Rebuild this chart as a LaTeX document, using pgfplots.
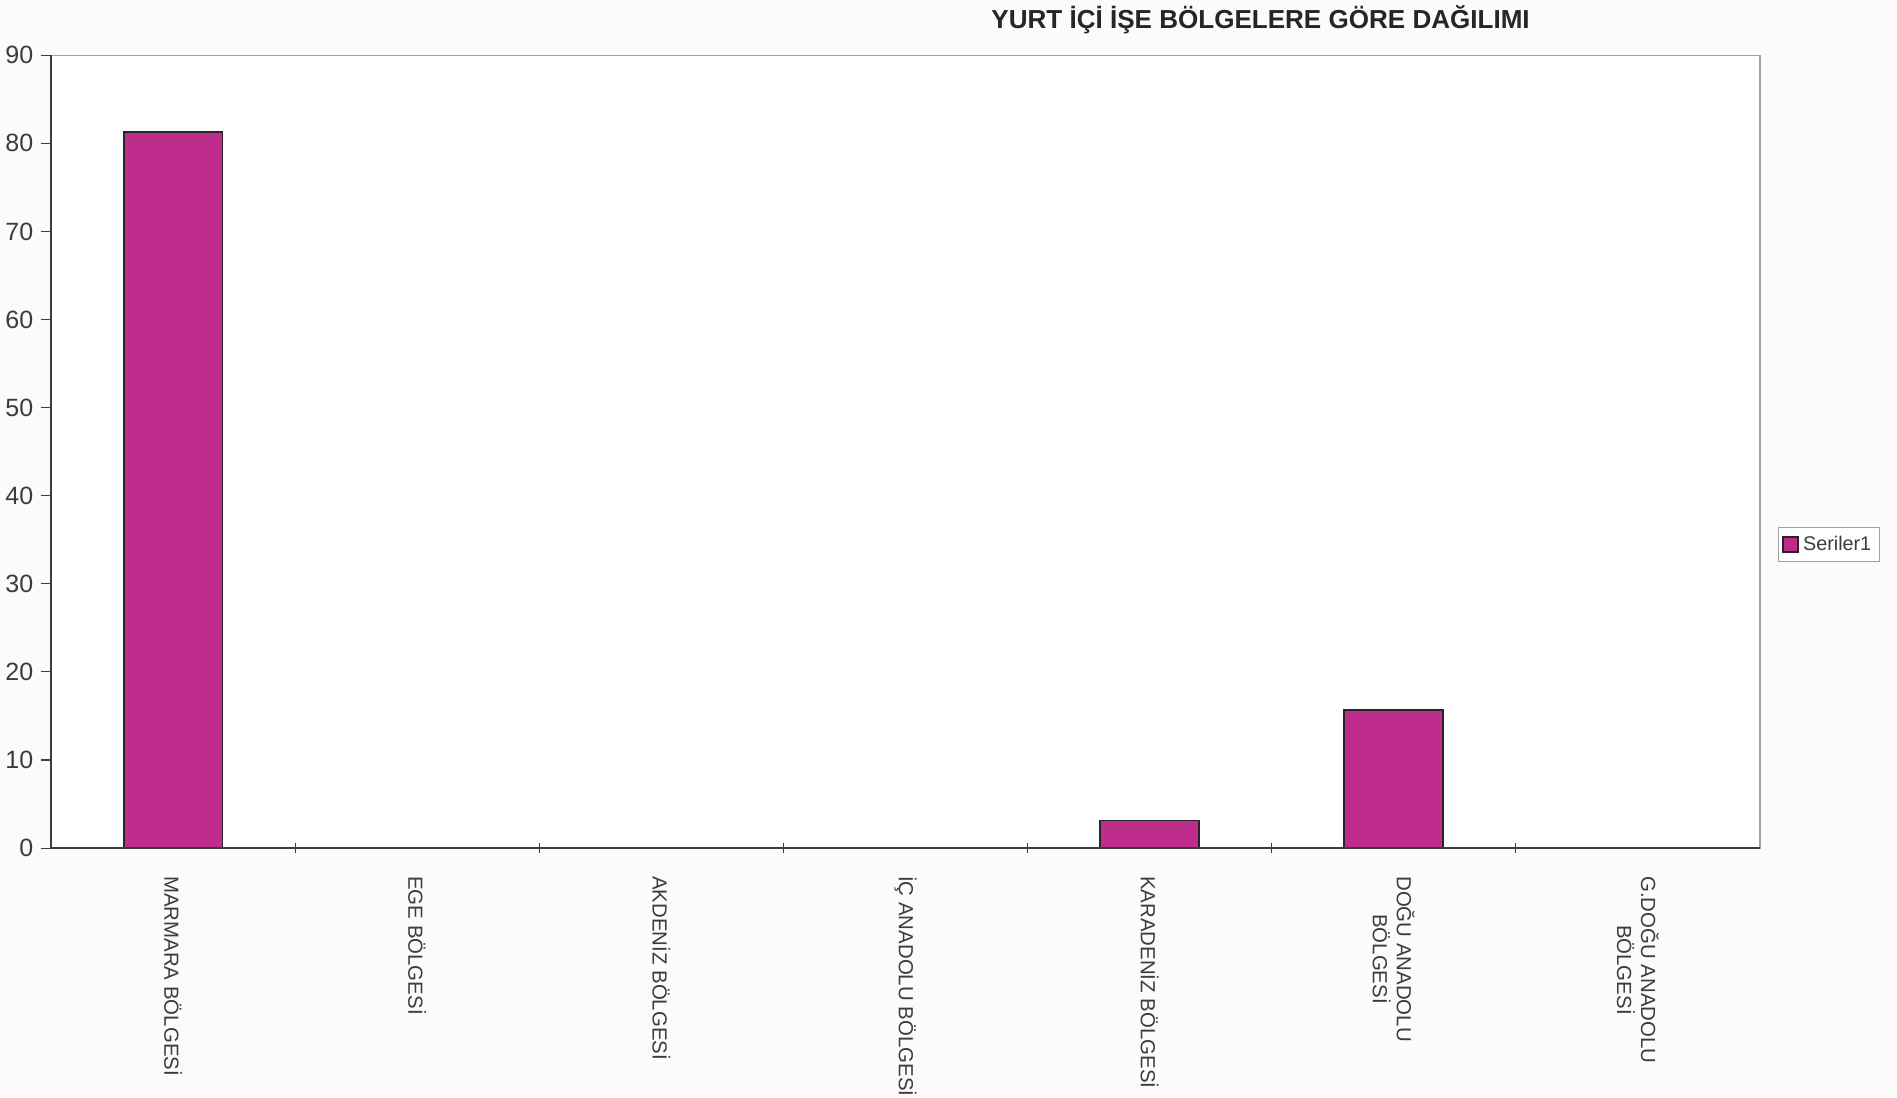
\documentclass[border=0pt]{standalone}
\usepackage{pgfplots}
\pgfplotsset{compat=1.18}
\usepackage{fontspec}
\setmainfont{Liberation Sans}
\definecolor{barmag}{RGB}{190,45,140}
\definecolor{txt}{RGB}{60,60,60}
\definecolor{bg}{RGB}{252,250,250}
\definecolor{frame}{RGB}{160,160,165}
\begin{document}
\begin{tikzpicture}[x=1pt,y=1pt]
\fill[bg] (0,0) rectangle (910.6,526.6);
\useasboundingbox (0,0) rectangle (910.6,526.6);
\node[font=\bfseries\fontsize{12.5}{14}\selectfont, text=black!85, anchor=base east] at (737.8,513.1) {YURT İÇİ İŞE BÖLGELERE GÖRE DAĞILIMI};
\begin{axis}[
  at={(24.5pt,119.5pt)}, anchor=south west,
  scale only axis, width=820.3pt, height=380.6pt,
  xmin=-0.5, xmax=6.5, ymin=0, ymax=90,
  axis background/.style={fill=white},
  axis line style={draw=frame, line width=0.6pt},
  ytick={0,10,...,90},
  xtick={0,...,6},
  xticklabels={MARMARA BÖLGESİ, EGE BÖLGESİ, AKDENİZ BÖLGESİ, İÇ ANADOLU BÖLGESİ, KARADENİZ BÖLGESİ, {DOĞU ANADOLU\\BÖLGESİ}, {G.DOĞU ANADOLU\\BÖLGESİ}},
  xtick pos=lower, ytick pos=left,
  xtick style={draw=none},
  ytick style={draw=txt, line width=0.5pt},
  tick align=outside,
  major tick length=5pt,
  extra x ticks={0.5,1.5,...,5.5},
  extra x tick labels={},
  extra x tick style={tick align=center, xtick pos=lower, xtick style={draw=txt, line width=0.5pt}, major tick length=5pt},
  xticklabel shift=5pt,
  x tick label style={rotate=-90, anchor=west, align=center, font=\fontsize{9.8}{11.5}\selectfont, text=txt},
  y tick label style={font=\fontsize{12}{14}\selectfont, text=txt},
  /pgf/number format/assume math mode=true,
  ybar, bar width=0.405,
  legend style={at={(1.0105,0.383)}, anchor=west, draw=frame, fill=white, font=\fontsize{9.5}{11}\selectfont, text=txt, inner xsep=2pt, inner ysep=2pt, row sep=0pt},
  legend image code/.code={\draw[#1] (0pt,-3.5pt) rectangle (7pt,3.5pt);},
  clip=false,
]
\addplot[fill=barmag, draw=black!85, line width=0.9pt] coordinates {(0,81.25) (1,0) (2,0) (3,0) (4,3.125) (5,15.625) (6,0)};
\addlegendentry{Seriler1}
\draw[txt, line width=0.7pt] (rel axis cs:0,1) -- (rel axis cs:0,0) -- (rel axis cs:1,0);
\end{axis}
\end{tikzpicture}
\end{document}
